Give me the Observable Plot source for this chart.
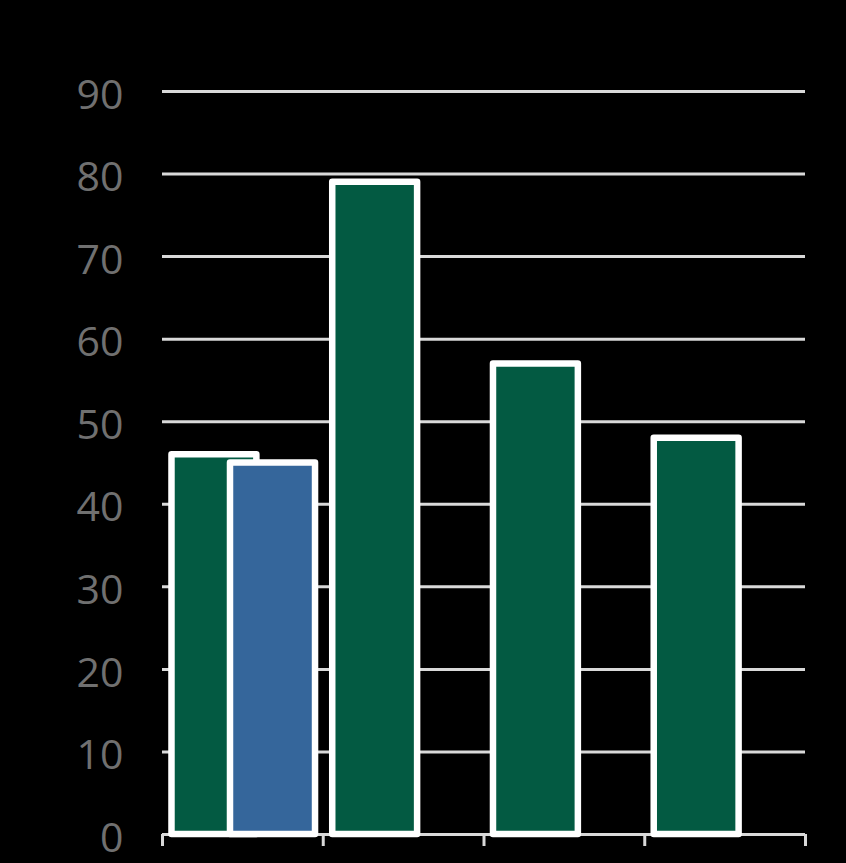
<!DOCTYPE html>
<html>
<head>
<meta charset="utf-8">
<script src="https://cdn.jsdelivr.net/npm/d3@7"></script>
<script src="https://cdn.jsdelivr.net/npm/@observablehq/plot@0.6"></script>
<style>
  html, body { margin: 0; padding: 0; background: #000; }
  #chart svg { display: block; background: #000; }
  #chart svg text { font-family: "Open Sans", sans-serif !important; }
</style>
</head>
<body>
<div id="chart"></div>
<script>
const categories = ["Group 1", "Group 2", "Group 3", "Group 4"];
const greenValues = [46, 79, 57, 48];
const blueValues = [45, null, null, null];
const yTicks = [0, 10, 20, 30, 40, 50, 60, 70, 80, 90];

const greenColor = "#035a42";
const blueColor = "#35669b";
const gridColor = "#d9d9d9";

// bar slot offsets within each category band (fractions of band width)
const greenSlot = [0.059, 0.587];
const blueSlot = [0.423, 0.952];

const greenData = categories.map((c, i) => ({cat: c, i, value: greenValues[i]}));
const blueData = categories
  .map((c, i) => ({cat: c, i, value: blueValues[i]}))
  .filter(d => d.value != null);

const chart = Plot.plot({
  width: 846,
  height: 863,
  marginLeft: 162,
  marginRight: 41,
  marginTop: 91,
  marginBottom: 29,
  style: {background: "#000", fontFamily: "'Open Sans', sans-serif"},
  x: {type: "linear", domain: [0, categories.length]},
  y: {domain: [0, 90]},
  marks: [
    Plot.ruleY(yTicks.filter(t => t > 0), {stroke: gridColor, strokeWidth: 3}),
    Plot.axisY({
      ticks: yTicks,
      tickSize: 0,
      tickPadding: 39,
      fontSize: 41,
      dy: 4,
      fill: "#707070",
      label: null
    }),
    Plot.axisX({
      ticks: d3.range(categories.length + 1),
      tickSize: 12,
      tickFormat: () => "",
      stroke: gridColor,
      strokeWidth: 3,
      label: null
    }),
    Plot.ruleY([0], {stroke: gridColor, strokeWidth: 3}),
    Plot.rectY(greenData, {
      x1: d => d.i + greenSlot[0],
      x2: d => d.i + greenSlot[1],
      y1: 0,
      y2: "value",
      fill: greenColor,
      stroke: "#fff",
      strokeWidth: 6.5,
      strokeLinejoin: "round"
    }),
    Plot.rectY(blueData, {
      x1: d => d.i + blueSlot[0],
      x2: d => d.i + blueSlot[1],
      y1: 0,
      y2: "value",
      fill: blueColor,
      stroke: "#fff",
      strokeWidth: 6.5,
      strokeLinejoin: "round"
    })
  ]
});
document.getElementById("chart").appendChild(chart);
</script>
</body>
</html>
